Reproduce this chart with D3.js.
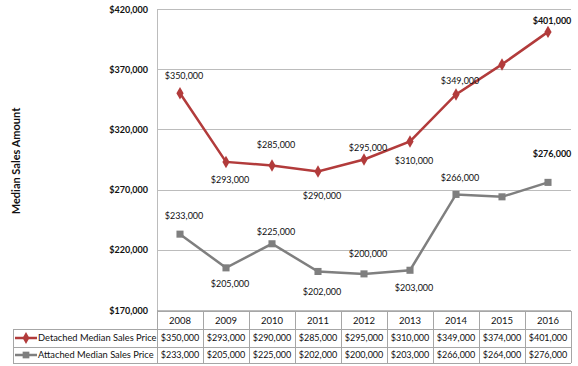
<!DOCTYPE html>
<html>
<head>
<meta charset="utf-8">
<script src="https://cdn.jsdelivr.net/npm/d3@7"></script>
<style>
  body { margin: 0; background: #fff; }
  text { font-family: Lato, "Open Sans", sans-serif; fill: #111; }
</style>
</head>
<body>
<div id="chart"></div>
<script>
const width = 578;
const height = 366;

const years = ["2008", "2009", "2010", "2011", "2012", "2013", "2014", "2015", "2016"];
const detached = [350000, 293000, 290000, 285000, 295000, 310000, 349000, 374000, 401000];
const attached = [233000, 205000, 225000, 202000, 200000, 203000, 266000, 264000, 276000];
// labels as they appear on the chart (2010/2011 detached are printed swapped in the original)
const detachedLabels = ["$350,000", "$293,000", "$285,000", "$290,000", "$295,000", "$310,000", "$349,000", "", "$401,000"];
const attachedLabels = ["$233,000", "$205,000", "$225,000", "$202,000", "$200,000", "$203,000", "$266,000", "", "$276,000"];
const yTicks = [170000, 220000, 270000, 320000, 370000, 420000];
const seriesNames = ["Detached Median Sales Price", "Attached Median Sales Price"];

// label placement (offset of label centre from point, px)
const detachedDy = [-18, 18, -21, 24, -12, 19, -14, 0, -11];
const attachedDy = [-19, 16, -12, 20, -20, 17, -17, 0, -29];

const red = "#b23b3b";
const grey = "#7f7f7f";
const lineCol = "#bcbcbc";

const margin = {left: 157, right: 7, top: 9, bottom: 56};
const plotW = width - margin.left - margin.right;
const plotBottom = height - margin.bottom;

const svg = d3.select("#chart")
    .append("svg")
    .attr("width", width)
    .attr("height", height);

const x = d3.scaleBand().domain(years).range([margin.left, margin.left + plotW]);
const y = d3.scaleLinear().domain([170000, 420000]).range([plotBottom, margin.top]);
const money = d3.format("$,.0f");

// gridlines
svg.selectAll(".grid")
    .data(yTicks)
    .enter()
    .append("line")
    .attr("x1", margin.left)
    .attr("x2", margin.left + plotW)
    .attr("y1", d => Math.round(y(d)) + 0.5)
    .attr("y2", d => Math.round(y(d)) + 0.5)
    .attr("stroke", lineCol)
    .attr("stroke-width", 1);

// left plot edge
svg.append("line")
    .attr("x1", margin.left + 0.5).attr("x2", margin.left + 0.5)
    .attr("y1", margin.top).attr("y2", plotBottom)
    .attr("stroke", lineCol);

// y tick labels
svg.selectAll(".ytick")
    .data(yTicks)
    .enter()
    .append("text")
    .attr("x", 148)
    .attr("y", d => y(d) + 3.5)
    .attr("text-anchor", "end")
    .attr("font-size", 9)
    .attr("font-weight", "bold")
    .text(d => money(d));

// y axis title
svg.append("text")
    .attr("transform", "translate(20,161) rotate(-90)")
    .attr("text-anchor", "middle")
    .attr("font-size", 11)
    .attr("font-weight", "bold")
    .text("Median Sales Amount");

const cx = d => x(d) + x.bandwidth() / 2;
const line = d3.line().x((d, i) => cx(years[i])).y(d => y(d));

function drawSeries(values, color, shape, labels, dys) {
    svg.append("path")
        .datum(values)
        .attr("d", line)
        .attr("fill", "none")
        .attr("stroke", color)
        .attr("stroke-width", 2.5);

    svg.selectAll(null)
        .data(values)
        .enter()
        .append("path")
        .attr("transform", (d, i) => `translate(${cx(years[i])},${y(d)})`)
        .attr("d", d3.symbol().type(shape).size(shape === d3.symbolSquare ? 50 : 45))
        .attr("fill", color);

    svg.selectAll(null)
        .data(values)
        .enter()
        .append("text")
        .attr("x", (d, i) => cx(years[i]) + 4)
        .attr("y", (d, i) => y(d) + dys[i] + 3.5)
        .attr("text-anchor", "middle")
        .attr("font-size", 9)
        .attr("font-weight", (d, i) => i === values.length - 1 ? "bold" : "normal")
        .text((d, i) => labels[i]);
}

drawSeries(detached, red, d3.symbolDiamond, detachedLabels, detachedDy);
drawSeries(attached, grey, d3.symbolSquare, attachedLabels, attachedDy);

// data table
const tableLeft = 13;
const rowTops = [311, 329, 347, 363];
const tblCol = "#a6a6a6";

// horizontal table lines
rowTops.forEach((ry, i) => {
    svg.append("line")
        .attr("x1", i === 0 ? margin.left : tableLeft)
        .attr("x2", margin.left + plotW)
        .attr("y1", ry + 0.5).attr("y2", ry + 0.5)
        .attr("stroke", tblCol);
});

// vertical table lines
const vx = years.map(yr => x(yr)).concat([margin.left + plotW]);
svg.selectAll(".vline")
    .data(vx)
    .enter()
    .append("line")
    .attr("x1", d => Math.round(d) + 0.5)
    .attr("x2", d => Math.round(d) + 0.5)
    .attr("y1", (d, i) => i === 0 ? plotBottom : rowTops[0])
    .attr("y2", rowTops[3])
    .attr("stroke", tblCol);
svg.append("line")
    .attr("x1", tableLeft + 0.5).attr("x2", tableLeft + 0.5)
    .attr("y1", rowTops[1]).attr("y2", rowTops[3])
    .attr("stroke", tblCol);

// header years
svg.selectAll(".yr")
    .data(years)
    .enter()
    .append("text")
    .attr("x", d => cx(d))
    .attr("y", rowTops[0] + 12.5)
    .attr("text-anchor", "middle")
    .attr("font-size", 9.5)
    .text(d => d);

[detached, attached].forEach((vals, r) => {
    const ry = rowTops[r + 1];
    const color = r === 0 ? red : grey;
    const midY = (ry + rowTops[r + 2]) / 2;

    svg.append("line")
        .attr("x1", 15).attr("x2", 37)
        .attr("y1", midY).attr("y2", midY)
        .attr("stroke", color).attr("stroke-width", 2.5);
    svg.append("path")
        .attr("transform", `translate(26,${midY})`)
        .attr("d", d3.symbol().type(r === 0 ? d3.symbolDiamond : d3.symbolSquare).size(r === 0 ? 40 : 45))
        .attr("fill", color);
    svg.append("text")
        .attr("x", 38)
        .attr("y", midY + 3.3)
        .attr("font-size", 9.3)
        .text(seriesNames[r]);

    svg.selectAll(null)
        .data(vals)
        .enter()
        .append("text")
        .attr("x", (d, i) => cx(years[i]))
        .attr("y", midY + 3.3)
        .attr("text-anchor", "middle")
        .attr("font-size", 9)
        .text(d => money(d));
});
</script>
</body>
</html>
